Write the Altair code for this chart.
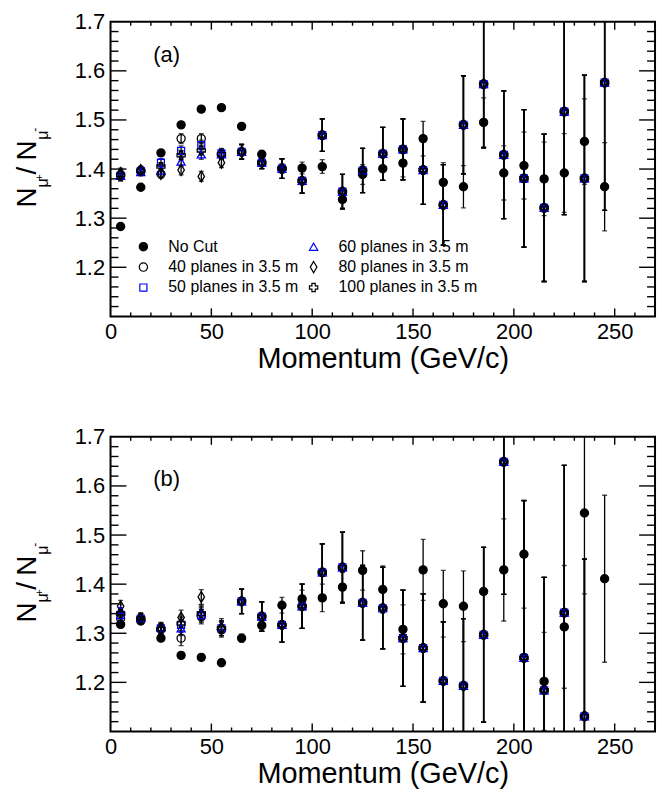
import altair as alt
import pandas as pd

# ---------------- data ----------------
momentum = [5, 15, 25, 35, 45, 55, 65, 75, 85, 95, 105, 115, 125, 135, 145,
            155, 165, 175, 185, 195, 205, 215, 225, 235, 245]

S_NC = "No Cut"
S40 = "40 planes in 3.5 m"
S50 = "50 planes in 3.5 m"
S60 = "60 planes in 3.5 m"
S80 = "80 planes in 3.5 m"
S100 = "100 planes in 3.5 m"
cut_series = [S40, S50, S60, S80, S100]

# ---- panel (a)
a_nocut = [1.283, 1.363, 1.433, 1.490, 1.522, 1.525, 1.487, 1.430, 1.401, 1.402,
           1.405, 1.338, 1.389, 1.401, 1.412, 1.462, 1.373, 1.364, 1.495, 1.392,
           1.407, 1.380, 1.392, 1.456, 1.364]
a_nocut_err = [0.004, 0.004, 0.005, 0.005, 0.005, 0.005, 0.006, 0.008, 0.010, 0.012,
               0.014, 0.017, 0.020, 0.024, 0.028, 0.035, 0.040, 0.043, 0.050, 0.055,
               0.068, 0.075, 0.080, 0.087, 0.090]
a_cut_low = {  # momenta 5..55
    S40: [1.388, 1.397, 1.390, 1.462, 1.462, 1.430],
    S50: [1.386, 1.396, 1.413, 1.437, 1.449, 1.432],
    S60: [1.386, 1.394, 1.397, 1.415, 1.430, 1.430],
    S80: [1.392, 1.398, 1.390, 1.398, 1.385, 1.413],
    S100: [1.388, 1.396, 1.405, 1.428, 1.438, 1.430],
}
a_cut_high = [1.435, 1.413, 1.401, 1.376, 1.469, 1.354, 1.397, 1.431, 1.440, 1.398,
              1.327, 1.490, 1.573, 1.429, 1.381, 1.321, 1.517, 1.381, 1.576]  # 65..245
a_cut_err = [0.010, 0.008, 0.008, 0.010, 0.010, 0.010, 0.015, 0.012, 0.020, 0.025,
             0.033, 0.035, 0.045, 0.054, 0.062, 0.070, 0.082, 0.100, 0.130, 0.130,
             0.140, 0.150, 0.210, 0.210, 0.260]

# ---- panel (b)
b_nocut = [1.318, 1.325, 1.290, 1.255, 1.251, 1.240, 1.290, 1.316, 1.357, 1.370,
           1.372, 1.394, 1.428, 1.389, 1.308, 1.429, 1.360, 1.355, 1.385, 1.429,
           1.461, 1.202, 1.313, 1.545, 1.411]
b_nocut_err = [0.005, 0.005, 0.006, 0.005, 0.006, 0.007, 0.008, 0.010, 0.016, 0.018,
               0.028, 0.030, 0.040, 0.048, 0.050, 0.062, 0.068, 0.072, 0.090, 0.104,
               0.110, 0.100, 0.125, 0.165, 0.170]
b_cut_low = {  # momenta 5..55
    S40: [1.330, 1.328, 1.310, 1.290, 1.334, 1.307],
    S50: [1.337, 1.330, 1.310, 1.317, 1.337, 1.310],
    S60: [1.347, 1.332, 1.312, 1.310, 1.343, 1.315],
    S80: [1.355, 1.330, 1.310, 1.332, 1.374, 1.310],
    S100: [1.340, 1.330, 1.308, 1.320, 1.340, 1.310],
}
b_cut_high = [1.365, 1.334, 1.317, 1.355, 1.424, 1.434, 1.362, 1.351, 1.290, 1.270,
              1.203, 1.193, 1.297, 1.649, 1.250, 1.184, 1.342, 1.131]  # 65..235
b_cut_err = [0.012, 0.010, 0.010, 0.015, 0.015, 0.015, 0.025, 0.030, 0.035, 0.045,
             0.058, 0.072, 0.076, 0.083, 0.098, 0.110, 0.120, 0.137, 0.178, 0.270,
             0.320, 0.230, 0.300, 0.320]

x_major = [0, 50, 100, 150, 200, 250]
x_minor = [10, 20, 30, 40, 60, 70, 80, 90, 110, 120, 130, 140, 160, 170, 180, 190,
           210, 220, 230, 240, 260]
y_major = [1.2, 1.3, 1.4, 1.5, 1.6, 1.7]
y_minor = [1.12, 1.14, 1.16, 1.18, 1.22, 1.24, 1.26, 1.28, 1.32, 1.34, 1.36, 1.38,
           1.42, 1.44, 1.46, 1.48, 1.52, 1.54, 1.56, 1.58, 1.62, 1.64, 1.66, 1.68]


def build(nocut, nocut_err, cut_low, cut_high, cut_err):
    rows = []
    for i, p in enumerate(momentum):
        v, e = nocut[i], nocut_err[i]
        rows.append(dict(series=S_NC, p=p, v=v, lo=v - e, hi=v + e))
    for s in cut_series:
        for i, p in enumerate(momentum):
            if i < 6:
                v = cut_low[s][i]
            elif i - 6 < len(cut_high):
                v = cut_high[i - 6]
            else:
                continue
            e = cut_err[i]
            rows.append(dict(series=s, p=p, v=v, lo=v - e, hi=v + e))
    return pd.DataFrame(rows)


df_a = build(a_nocut, a_nocut_err, a_cut_low, a_cut_high, a_cut_err)
df_b = build(b_nocut, b_nocut_err, b_cut_low, b_cut_high, b_cut_err)

# ---------------- styling ----------------
W, H = 547, 296
FONT = "Liberation Sans"
BLUE = "#0000ff"
legend_order = [S_NC, S40, S50, S60, S80, S100]
stroke_range = ["black", "black", BLUE, BLUE, "black", "black"]
fill_range = ["black", "transparent", "transparent", "transparent", "transparent", "transparent"]
diamond = "M0,-1.35L0.8,0L0,1.35L-0.8,0Z"
square = "M-0.85,-0.85L0.85,-0.85L0.85,0.85L-0.85,0.85Z"
shape_range = ["circle", "circle", square, "triangle-up", diamond, "cross"]

xscale = alt.Scale(domain=[0, 270], nice=False, zero=False)
yscale = alt.Scale(domain=[1.1, 1.7], nice=False, zero=False)
xaxis = alt.Axis(values=x_major, ticks=False, domain=False, grid=False,
                 labelFontSize=22, labelPadding=5, title="Momentum (GeV/c)",
                 titleFontSize=29, titleFontWeight="normal", titlePadding=2,
                 labelFlush=False, labelOverlap=False)
yaxis = alt.Axis(values=y_major, ticks=False, domain=False, grid=False,
                 labelFontSize=22, labelPadding=6, title=None, format=".1f",
                 labelFlush=False, labelOverlap=False)

one = pd.DataFrame({"k": [0]})


def txt(t, fs, x, y, angle=0, align="left", baseline="alphabetic"):
    return alt.Chart(one).mark_text(text=t, fontSize=fs, font=FONT, angle=angle,
                                    align=align, baseline=baseline,
                                    color="black").encode(x=alt.value(x), y=alt.value(y))


def panel(df, label, show_legend):
    if show_legend:
        leg = alt.Legend(orient="none", legendX=25, legendY=218, columns=2, title=None,
                         labelFontSize=16, labelFont=FONT, symbolSize=70,
                         symbolStrokeWidth=1.2, labelOffset=17, columnPadding=7,
                         rowPadding=3.5, padding=0, labelLimit=300)
    else:
        leg = None
    stroke = alt.Stroke("series:N", scale=alt.Scale(domain=legend_order, range=stroke_range), legend=leg)
    fill = alt.Fill("series:N", scale=alt.Scale(domain=legend_order, range=fill_range), legend=leg)
    shape = alt.Shape("series:N", scale=alt.Scale(domain=legend_order, range=shape_range), legend=leg)
    X = alt.X("p:Q", scale=xscale, axis=xaxis)

    base = alt.Chart(df)
    bars = base.mark_rule(clip=True, strokeWidth=1.3, color="black").encode(
        x=X, y=alt.Y("lo:Q", scale=yscale, axis=yaxis), y2="hi:Q")
    cap_lo = base.mark_tick(clip=True, orient="horizontal", size=5, thickness=1.3,
                            color="black").encode(x=X, y=alt.Y("lo:Q", scale=yscale, axis=yaxis))
    cap_hi = base.mark_tick(clip=True, orient="horizontal", size=5, thickness=1.3,
                            color="black").encode(x=X, y=alt.Y("hi:Q", scale=yscale, axis=yaxis))
    pts = base.mark_point(clip=True, size=66, strokeWidth=1.3, opacity=1).encode(
        x=X, y=alt.Y("v:Q", scale=yscale, axis=yaxis), stroke=stroke, fill=fill, shape=shape)

    ymaj = alt.Chart(pd.DataFrame({"t": y_major[:-1]}))
    ymin = alt.Chart(pd.DataFrame({"t": y_minor}))
    xmaj = alt.Chart(pd.DataFrame({"t": x_major[1:]}))
    xmin = alt.Chart(pd.DataFrame({"t": x_minor}))
    Yt = alt.Y("t:Q", scale=yscale, axis=yaxis)
    Xt = alt.X("t:Q", scale=xscale, axis=xaxis)
    tk = dict(color="black", strokeWidth=1.4)
    ticks = [
        ymaj.mark_rule(**tk).encode(y=Yt, x=alt.value(0), x2=alt.value(16)),
        ymin.mark_rule(**tk).encode(y=Yt, x=alt.value(0), x2=alt.value(8)),
        ymaj.mark_rule(**tk).encode(y=Yt, x=alt.value(W), x2=alt.value(W - 16)),
        ymin.mark_rule(**tk).encode(y=Yt, x=alt.value(W), x2=alt.value(W - 8)),
        xmaj.mark_rule(**tk).encode(x=Xt, y=alt.value(H), y2=alt.value(H - 8)),
        xmin.mark_rule(**tk).encode(x=Xt, y=alt.value(H), y2=alt.value(H - 4)),
        xmaj.mark_rule(**tk).encode(x=Xt, y=alt.value(0), y2=alt.value(8)),
        xmin.mark_rule(**tk).encode(x=Xt, y=alt.value(0), y2=alt.value(4)),
    ]

    c = H / 2
    title_parts = [
        txt("N", 28, -75, c + 38.5, angle=270),
        txt("μ", 16, -63, c + 18.5, angle=270),
        txt("+", 11, -68, c + 11.5, angle=270),
        txt("/", 28, -75, c + 5.5, angle=270),
        txt("N", 28, -75, c - 8.5, angle=270),
        txt("μ", 16, -63, c - 29.5, angle=270),
        txt("-", 12, -72, c - 37.5, angle=270),
    ]
    lab = txt(label, 22, 43, 33 if label == "(a)" else 42, baseline="middle")

    return alt.layer(bars, cap_lo, cap_hi, pts, *ticks, *title_parts, lab).properties(
        width=W, height=H)


pa = panel(df_a, "(a)", True)
pb = panel(df_b, "(b)", False)

chart = alt.vconcat(pa, pb, spacing=51).resolve_legend(
    stroke="independent", fill="independent", shape="independent"
).properties(
    padding={"left": 5, "top": 0, "right": 5, "bottom": 0}
).configure_view(stroke="black", strokeWidth=2).configure_axis(
    labelFont=FONT, titleFont=FONT, labelColor="black", titleColor="black"
).configure_legend(labelFont=FONT, labelColor="black")

chart.save("out.html", embed_options={"renderer": "svg", "actions": False})
